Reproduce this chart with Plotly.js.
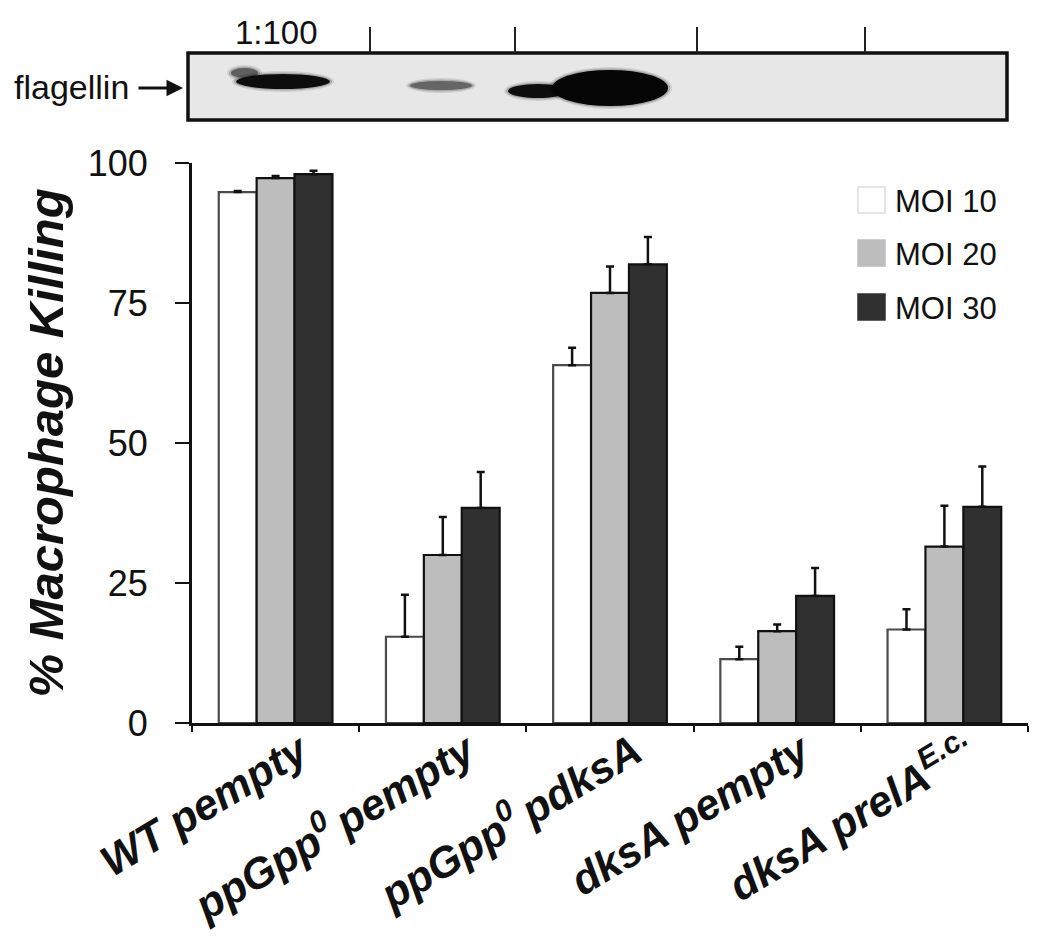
<!DOCTYPE html>
<html>
<head>
<meta charset="utf-8">
<script src="https://cdn.plot.ly/plotly-3.0.1.min.js"></script>
<style>
  html, body { margin: 0; padding: 0; background: #ffffff; }
  #chart { width: 1050px; height: 944px; }
</style>
</head>
<body>
<div id="chart"></div>
<script>
// ---- data ----
const categories = ['WT pempty', 'ppGpp<sup>0 </sup>pempty', 'ppGpp<sup>0 </sup>pdksA', 'dksA pempty', 'dksA prelA<sup>E.c.</sup>'];
const seriesNames = ['MOI 10', 'MOI 20', 'MOI 30'];
const moi10 = [94.8, 15.4, 63.9, 11.4, 16.7];
const moi20 = [97.3, 30.0, 76.8, 16.4, 31.5];
const moi30 = [98.0, 38.4, 81.9, 22.7, 38.6];
const moi10Err = [0.2, 7.5, 3.1, 2.2, 3.6];
const moi20Err = [0.4, 6.8, 4.7, 1.2, 7.3];
const moi30Err = [0.6, 6.4, 4.9, 5.0, 7.2];
const yTicks = [0, 25, 50, 75, 100];
const yTitle = '% Macrophage Killing';
const blotLabel = 'flagellin';
const dilutionLabel = '1:100';

// ---- styling ----
const FONT = 'Liberation Sans, Arial, Helvetica, sans-serif';
const fills = ['#ffffff', '#bdbdbd', '#303030'];
const outlines = ['#4a4a4a', '#111111', '#111111'];
const values = [moi10, moi20, moi30];
const errs = [moi10Err, moi20Err, moi30Err];

const traces = values.map((v, i) => ({
  type: 'bar',
  name: seriesNames[i],
  x: categories,
  y: v,
  marker: { color: fills[i], line: { color: outlines[i], width: 2.2 } },
  error_y: { type: 'data', array: errs[i], arrayminus: errs[i].map(() => 0), symmetric: false,
             color: '#111111', thickness: 2.5, width: 4 },
  showlegend: false,
  hoverinfo: 'x+y+name'
}));

// pixel -> paper helpers (plot area: x 192..1028, y 163..723)
const L = 192, R = 1028, T = 163, B = 723;
const px = x => (x - L) / (R - L);
const py = y => (B - y) / (B - T);

const shapes = [];
const annotations = [];

// western blot panel
shapes.push({ type: 'rect', xref: 'paper', yref: 'paper', x0: px(188), x1: px(1007), y0: py(120), y1: py(53),
  fillcolor: '#e7e7e7', line: { color: '#111111', width: 3.5 } });
[370, 515, 697, 865].forEach(xp => shapes.push({ type: 'line', xref: 'paper', yref: 'paper',
  x0: px(xp), x1: px(xp), y0: py(53), y1: py(27), line: { color: '#222222', width: 2 } }));
// bands (soft ellipses, layered for a blurred look)
function band(x0, x1, y0, y1, color, op) {
  shapes.push({ type: 'circle', xref: 'paper', yref: 'paper', x0: px(x0), x1: px(x1), y0: py(y1), y1: py(y0),
    fillcolor: color, opacity: op, line: { width: 0 } });
}
function softBand(x0, x1, y0, y1, core, coreOp) {
  band(x0 - 4, x1 + 4, y0 - 3, y1 + 3, '#000000', 0.10);
  band(x0 - 2, x1 + 2, y0 - 1.5, y1 + 1.5, '#000000', 0.18);
  band(x0, x1, y0, y1, core, coreOp);
}
softBand(231, 258, 68, 78, '#222222', 0.55);
softBand(236, 330, 74, 89, '#0d0d0d', 1);
softBand(410, 472, 81, 90, '#000000', 0.4);
softBand(508, 568, 84, 98, '#0d0d0d', 1);
softBand(552, 668, 70, 106, '#050505', 1);

annotations.push({ xref: 'paper', yref: 'paper', x: px(276), y: py(33), text: dilutionLabel, showarrow: false,
  font: { family: FONT, size: 33, color: '#111111' }, xanchor: 'center', yanchor: 'middle' });
annotations.push({ xref: 'paper', yref: 'paper', x: px(131), y: py(87), text: blotLabel, showarrow: false,
  font: { family: FONT, size: 34, color: '#111111' }, xanchor: 'right', yanchor: 'middle' });
annotations.push({ xref: 'paper', yref: 'paper', x: px(183), y: py(88), ax: -46, ay: 0, text: '',
  showarrow: true, arrowhead: 2, arrowsize: 1.1, arrowwidth: 3, arrowcolor: '#111111' });

// legend (drawn)
const legY = [200, 253, 307];
seriesNames.forEach((n, i) => {
  shapes.push({ type: 'rect', xref: 'paper', yref: 'paper', x0: px(858), x1: px(885),
    y0: py(legY[i] + 13), y1: py(legY[i] - 13), fillcolor: fills[i],
    line: { color: i === 0 ? '#dddddd' : fills[i], width: 1.5 } });
  annotations.push({ xref: 'paper', yref: 'paper', x: px(893), y: py(legY[i] + 1), text: n, showarrow: false,
    font: { family: FONT, size: 31, color: '#111111' }, xanchor: 'left', yanchor: 'middle' });
});

const layout = {
  width: 1050, height: 944,
  margin: { l: L, r: 1050 - R, t: T, b: 944 - B, pad: 0 },
  paper_bgcolor: '#ffffff', plot_bgcolor: '#ffffff',
  barmode: 'group', bargap: 0.32, bargroupgap: 0,
  font: { family: FONT, color: '#111111' },
  xaxis: {
    type: 'category', showline: true, linecolor: '#111111', linewidth: 3,
    ticks: 'outside', tickson: 'boundaries', ticklen: 6, tickwidth: 2, tickcolor: '#111111',
    tickangle: -31, ticklabelshift: 24, ticklabelstandoff: -16,
    tickfont: { family: FONT, size: 43, weight: 'bold', style: 'italic', color: '#111111' },
    showgrid: false, zeroline: false, fixedrange: true, automargin: false
  },
  yaxis: {
    range: [0, 100], tickvals: yTicks, showline: true, linecolor: '#111111', linewidth: 3,
    ticks: 'outside', ticklen: 14, tickwidth: 2.5, tickcolor: '#111111',
    tickfont: { family: FONT, size: 36, color: '#111111' }, ticklabelstandoff: 20,
    showgrid: false, zeroline: false, fixedrange: true, automargin: false,
    title: { text: yTitle, standoff: 9, font: { family: FONT, size: 49, weight: 'bold', style: 'italic', color: '#111111' } }
  },
  shapes: shapes,
  annotations: annotations,
  showlegend: false
};

Plotly.newPlot('chart', traces, layout, { displayModeBar: false, staticPlot: true });
</script>
</body>
</html>
